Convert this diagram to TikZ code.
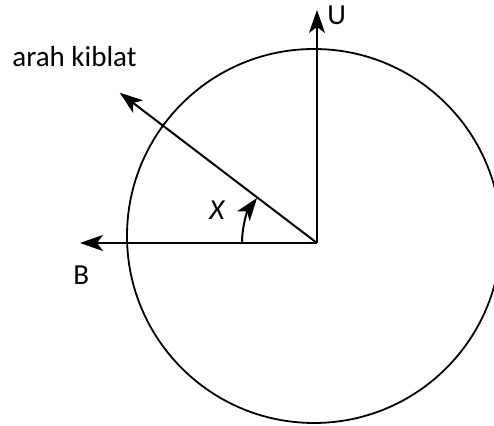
\documentclass[tikz,border=0pt]{standalone}
\usepackage{fontspec}
\setmainfont{Carlito}
\usetikzlibrary{arrows.meta}

\begin{document}
\begin{tikzpicture}[
  x=0.5pt, y=0.5pt,
  axis/.style={line width=1pt, -{Stealth[length=11.5pt, width=8pt, inset=3pt]}},
  lbl/.style={font=\fontsize{14.5}{17}\selectfont, inner sep=0pt, anchor=base west},
  >=Stealth
]
  \useasboundingbox (-317,-183) rectangle (177,243);
  \clip (-317,-183) rectangle (177,243);

  % Circle
  \draw[line width=0.9pt] (-3,7) circle[radius=187];

  % Centre and ends of the directions
  \coordinate (O) at (0,0);
  \coordinate (north) at (0,233);
  \coordinate (west) at (-237,0);
  \coordinate (kiblat) at (142.7:248);

  % Directions
  \draw[axis] (O) -- (north);
  \draw[axis] (O) -- (west);
  \draw[axis] (O) -- (kiblat);

  % Angle X
  \draw[axis] (-75,0) arc[start angle=180, end angle=143, radius=75];

  % Labels
  \node[lbl] (lblU) at (10,218) {U};
  \node[lbl] (lblB) at (-244,-42) {B};
  \node[lbl] (lblKiblat) at (-305,176) {arah kiblat};
  \node[lbl, font=\fontsize{14.5}{17}\selectfont\itshape] (lblX) at (-108,23) {X};
\end{tikzpicture}
\end{document}
